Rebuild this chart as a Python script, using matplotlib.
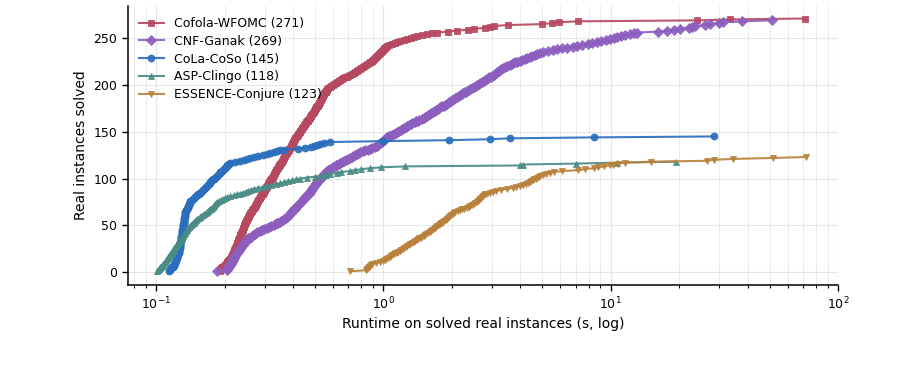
import matplotlib
matplotlib.use("Agg")
import matplotlib.pyplot as plt
import numpy as np

# Sorted runtimes (s) of solved real instances
cofola_wfomc = [
    0.19, 0.19, 0.192, 0.193, 0.195,
    0.197, 0.199, 0.200, 0.202, 0.204, 0.205, 0.207, 0.209, 0.212,
    0.213, 0.214, 0.215, 0.216, 0.217, 0.218, 0.219, 0.219, 0.220, 0.221, 0.222,
    0.223, 0.224, 0.225, 0.226, 0.227, 0.227, 0.228, 0.229, 0.230, 0.231,
    0.232, 0.233, 0.234, 0.235, 0.235, 0.236, 0.237, 0.238, 0.239, 0.240, 0.241,
    0.242, 0.243, 0.244, 0.244, 0.245, 0.246, 0.247, 0.248, 0.249, 0.250, 0.251,
    0.253, 0.254, 0.256, 0.257, 0.259, 0.260, 0.262, 0.263, 0.265, 0.266, 0.268,
    0.269, 0.271, 0.272, 0.274, 0.275, 0.277, 0.278,
    0.280, 0.281, 0.283, 0.285, 0.287, 0.288, 0.290, 0.292, 0.294, 0.295, 0.297,
    0.299, 0.301, 0.302, 0.304, 0.306, 0.308,
    0.310, 0.311, 0.313, 0.315, 0.317, 0.318, 0.320, 0.322, 0.324, 0.325, 0.327,
    0.329, 0.331, 0.332, 0.334, 0.336, 0.338, 0.340,
    0.342, 0.344, 0.346, 0.348, 0.350, 0.352, 0.354, 0.356, 0.358, 0.360, 0.362,
    0.364, 0.366, 0.368, 0.370, 0.372, 0.375, 0.377,
    0.379, 0.381, 0.383, 0.386, 0.388, 0.390, 0.392, 0.394, 0.397, 0.399, 0.401,
    0.403, 0.406, 0.408, 0.410, 0.412, 0.415, 0.417,
    0.419, 0.422, 0.425, 0.428, 0.431, 0.434, 0.437, 0.440, 0.443, 0.446, 0.449,
    0.452, 0.455, 0.458, 0.461, 0.464, 0.467, 0.470, 0.473, 0.476, 0.479, 0.482,
    0.485, 0.489, 0.493,
    0.496, 0.499, 0.502, 0.504, 0.507, 0.510, 0.513, 0.516, 0.519, 0.522, 0.524,
    0.527, 0.530, 0.533, 0.536, 0.539, 0.542, 0.544, 0.547, 0.550, 0.553, 0.556,
    0.559, 0.562, 0.565,
    0.573, 0.581, 0.590, 0.599, 0.608, 0.617, 0.626, 0.635,
    0.645, 0.656, 0.667, 0.678, 0.689, 0.700, 0.712, 0.726, 0.740,
    0.752, 0.764, 0.776, 0.788, 0.800, 0.812, 0.825, 0.838, 0.850, 0.863, 0.876,
    0.884, 0.893, 0.902, 0.911, 0.920, 0.929, 0.938, 0.947, 0.956, 0.965, 0.974,
    0.983, 0.992, 1.001, 1.010, 1.019, 1.028, 1.037,
    1.06, 1.09, 1.12, 1.15, 1.187,
    1.23, 1.27, 1.32, 1.36, 1.405,
    1.47, 1.55, 1.63, 1.72,
    1.92, 2.11,
    2.35, 2.5, 2.8, 2.95, 3.05,
    3.54, 5.0, 5.5, 5.93, 7.2, 24.0, 33.6, 71.8,
]

cnf_ganak = [
    0.185,
    0.205, 0.206, 0.207, 0.208, 0.209, 0.210, 0.212, 0.213, 0.214, 0.215, 0.216,
    0.217, 0.218, 0.219, 0.220, 0.222, 0.223, 0.224, 0.225, 0.227,
    0.229, 0.230, 0.232, 0.234, 0.235, 0.237, 0.239, 0.241, 0.242, 0.244, 0.246,
    0.248, 0.249, 0.251,
    0.254, 0.258, 0.261, 0.265, 0.268, 0.271, 0.275, 0.278,
    0.285, 0.292, 0.299, 0.306, 0.314, 0.321, 0.329,
    0.334, 0.339, 0.345, 0.350, 0.355, 0.361, 0.366, 0.371, 0.377,
    0.380, 0.383, 0.387, 0.390, 0.393, 0.397, 0.400, 0.404, 0.407, 0.410, 0.414, 0.417,
    0.421, 0.425, 0.429, 0.433, 0.437, 0.441, 0.445, 0.449, 0.453, 0.457, 0.461,
    0.464, 0.468, 0.471, 0.475, 0.478, 0.482, 0.485, 0.489, 0.492, 0.496, 0.499,
    0.503, 0.506, 0.510,
    0.515, 0.519, 0.523, 0.527, 0.532, 0.536, 0.540, 0.544, 0.548, 0.553, 0.559, 0.565,
    0.573, 0.582, 0.591, 0.600, 0.609, 0.618, 0.627, 0.636, 0.646,
    0.658, 0.671, 0.684, 0.697, 0.711, 0.724, 0.737, 0.751, 0.764, 0.777, 0.791,
    0.810, 0.830, 0.851, 0.872, 0.893, 0.915, 0.937,
    0.948, 0.959, 0.970, 0.981, 0.992, 1.004, 1.015, 1.026, 1.037, 1.053, 1.070,
    1.09, 1.11, 1.13, 1.15, 1.17, 1.19, 1.21, 1.23, 1.25, 1.27,
    1.29, 1.32, 1.34, 1.37, 1.39, 1.42, 1.44, 1.47, 1.50,
    1.52, 1.55, 1.57, 1.60, 1.62, 1.65, 1.68, 1.70, 1.73, 1.75, 1.78,
    1.81, 1.84, 1.87, 1.90, 1.93, 1.95, 1.98, 2.01, 2.04,
    2.07, 2.10, 2.14, 2.17, 2.21, 2.24, 2.27, 2.31, 2.34, 2.38, 2.41,
    2.45, 2.49, 2.54, 2.58, 2.63, 2.67, 2.72, 2.76,
    2.80, 2.84, 2.88, 2.92, 2.96, 3.00, 3.05, 3.09, 3.13, 3.17, 3.21, 3.26, 3.30,
    3.37, 3.44, 3.51, 3.59, 3.66, 3.73, 3.80, 3.88,
    3.98, 4.08, 4.19, 4.30, 4.41, 4.52, 4.63, 4.74, 4.90, 5.05,
    5.3, 5.55, 5.8,
    6.1, 6.4, 6.8, 7.1, 7.5, 7.9, 8.3, 8.7,
    9.1, 9.5, 9.9, 10.3, 10.7,
    11.1, 11.6, 12.1, 12.6, 13.1,
    16.2, 17.7, 19.0, 20.2, 22.0, 22.8, 23.5, 26.0, 27.4, 30.0, 31.0, 37.8, 51.3,
]

cola_coso = [
    0.1136, 0.1146, 0.1156, 0.1166, 0.1176, 0.1186, 0.1195,
    0.1200, 0.1204, 0.1209, 0.1213, 0.1218, 0.1222, 0.1226, 0.1231, 0.1235, 0.1240,
    0.1244, 0.1248, 0.1253, 0.1257,
    0.1259, 0.1261, 0.1263, 0.1265, 0.1267, 0.1269, 0.1271, 0.1273, 0.1275, 0.1277,
    0.1279, 0.1281, 0.1283, 0.1285, 0.1287, 0.1289, 0.1291, 0.1293, 0.1295, 0.1297,
    0.1299, 0.1301,
    0.1303, 0.1305, 0.1307, 0.1309, 0.1311, 0.1313, 0.1315, 0.1317, 0.1320, 0.1322,
    0.1324, 0.1326, 0.1328, 0.1330, 0.1332, 0.1334, 0.1336, 0.1338, 0.1341, 0.1343, 0.1345,
    0.1351, 0.1357, 0.1363, 0.1369, 0.1375, 0.1381, 0.1387, 0.1393, 0.1399, 0.1405,
    0.1411, 0.1416,
    0.1432, 0.1449, 0.1465, 0.1482, 0.1499, 0.1515, 0.1532, 0.1548, 0.1565,
    0.1580, 0.1596, 0.1611, 0.1626, 0.1641, 0.1657, 0.1672, 0.1687, 0.1702, 0.1718, 0.1733,
    0.1750, 0.1767, 0.1784, 0.1800, 0.1817, 0.1834, 0.1851, 0.1868, 0.1884, 0.1901, 0.1918,
    0.194, 0.196, 0.198, 0.200, 0.202, 0.204, 0.206, 0.208, 0.210, 0.212,
    0.222, 0.2345,
    0.243, 0.252, 0.260, 0.2685,
    0.281, 0.294, 0.308,
    0.318, 0.329, 0.341, 0.352, 0.364,
    0.42, 0.453, 0.48, 0.493, 0.51, 0.528, 0.55, 0.58,
    1.0, 1.95, 2.93, 3.61, 8.46, 28.5,
]

asp_clingo = [
    0.1010, 0.1018, 0.1026, 0.1035, 0.1043, 0.1051, 0.1059, 0.1067, 0.1076, 0.1084,
    0.1092, 0.1100, 0.1109, 0.1117,
    0.1124, 0.1131, 0.1138, 0.1145, 0.1152, 0.1160, 0.1167, 0.1174, 0.1181, 0.1188, 0.1195,
    0.1203, 0.1212, 0.1220, 0.1229, 0.1237, 0.1245, 0.1254, 0.1262, 0.1271, 0.1279,
    0.1287, 0.1295, 0.1303, 0.1311, 0.1319, 0.1328, 0.1336, 0.1344, 0.1352, 0.1360, 0.1369,
    0.1382, 0.1395, 0.1408, 0.1421, 0.1435, 0.1448, 0.1461, 0.1474, 0.1488, 0.1501, 0.1514,
    0.1537, 0.1560, 0.1583, 0.1606, 0.1629, 0.1652, 0.1675,
    0.1691, 0.1707, 0.1724, 0.1740, 0.1756, 0.1772, 0.1789, 0.1805, 0.1821, 0.1838, 0.1854,
    0.189, 0.193, 0.197, 0.201, 0.2052,
    0.212, 0.220, 0.227, 0.2345,
    0.241, 0.248, 0.254, 0.261, 0.2685,
    0.281, 0.294, 0.308,
    0.321, 0.335, 0.349, 0.364,
    0.379, 0.395, 0.412, 0.431,
    0.46, 0.50, 0.53, 0.56, 0.584, 0.624, 0.65,
    0.712, 0.75, 0.80, 0.87, 0.98, 1.24,
    4.0, 4.1, 7.05, 10.6, 19.4,
]

essence_conjure = [
    0.715,
    0.84,
    0.848, 0.855, 0.861, 0.868, 0.875, 0.882, 0.89,
    0.93, 0.965, 1.0,
    1.015, 1.031, 1.047, 1.063, 1.079, 1.095, 1.111, 1.128, 1.144,
    1.162, 1.181, 1.199, 1.217, 1.235, 1.253, 1.271, 1.290, 1.308, 1.335, 1.360,
    1.380, 1.400, 1.420, 1.440, 1.460, 1.480, 1.500, 1.520, 1.540, 1.570, 1.600,
    1.620, 1.641, 1.662, 1.684, 1.705, 1.726, 1.748, 1.769, 1.790, 1.812, 1.833,
    1.855, 1.877, 1.900,
    1.92, 1.95, 1.97, 1.99, 2.02, 2.04, 2.07,
    2.12, 2.17, 2.22, 2.27, 2.33,
    2.37, 2.41, 2.45, 2.49, 2.53, 2.57,
    2.60, 2.63, 2.66, 2.69, 2.72, 2.75, 2.78, 2.81, 2.84,
    2.94, 3.03, 3.13,
    3.3, 3.5, 3.7,
    3.83, 3.97, 4.11, 4.25,
    4.32, 4.39, 4.46, 4.53, 4.61, 4.68, 4.75, 4.82, 4.90,
    5.05, 5.2, 5.4, 5.6,
    6.1, 7.2, 7.7, 8.4, 8.8, 9.3, 9.9, 10.2, 10.8, 11.5, 15.1, 26.4, 28.3, 34.5,
    51.7, 72.1,
]

names = ["Cofola-WFOMC", "CNF-Ganak", "CoLa-CoSo", "ASP-Clingo", "ESSENCE-Conjure"]
solved = [271, 269, 145, 118, 123]
series = [cofola_wfomc, cnf_ganak, cola_coso, asp_clingo, essence_conjure]
colors = ["#b6485f", "#8c5fbf", "#2a6ebd", "#4a8c86", "#b9823c"]
markers = ["s", "D", "o", "^", "v"]

plt.rcParams["font.family"] = ["DejaVu Sans"]
fig = plt.figure(figsize=(9.19, 3.67), dpi=100)
ax = fig.add_axes([0.139, 0.224, 0.773, 0.760])

for name, n, data, c, m in zip(names, solved, series, colors, markers):
    t = np.sort(np.asarray(data, dtype=float))
    y = np.arange(1, len(t) + 1)
    ax.plot(t, y, color=c, marker=m, markersize=5, linewidth=1.5,
            markeredgewidth=0.6, markeredgecolor=c, alpha=0.92,
            label=f"{name} ({n})")

ax.set_xscale("log")
ax.set_xlim(0.075, 100)
ax.set_ylim(-13.5, 284.5)
ax.set_yticks([0, 50, 100, 150, 200, 250])
ax.grid(True, which="major", color="#e6e6e6", linewidth=0.8)
ax.grid(True, which="minor", axis="x", color="#ececec", linewidth=0.7)
ax.set_axisbelow(True)
for s in ["top", "right"]:
    ax.spines[s].set_visible(False)
for s in ["left", "bottom"]:
    ax.spines[s].set_linewidth(1.1)
ax.tick_params(axis="both", which="major", labelsize=9, length=4, width=1)
ax.tick_params(axis="x", which="minor", length=2.5, width=0.8)
ax.set_xlabel("Runtime on solved real instances (s, log)", fontsize=10)
ax.set_ylabel("Real instances solved", fontsize=10)
leg = ax.legend(loc="upper left", frameon=False, fontsize=9,
                handlelength=2.0, labelspacing=0.38, borderaxespad=0.5)

fig.savefig("out.png", dpi=100)
